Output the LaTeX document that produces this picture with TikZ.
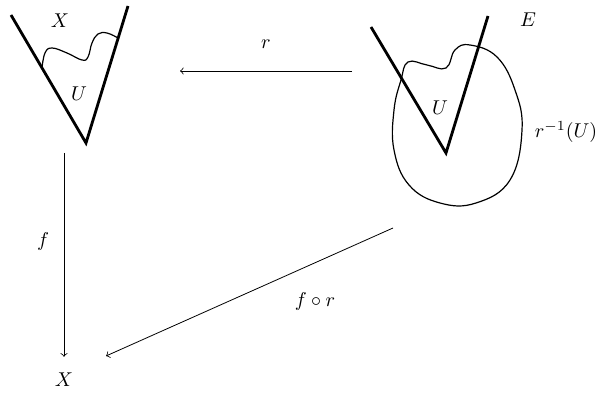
\documentclass[tikz,border=0pt]{standalone}
\usepackage{amsmath,amssymb}
\usepackage{tikz}
\begin{document}
\begin{tikzpicture}[x=0.5pt,y=-0.5pt]
  \tikzset{vee/.style={line width=1.4pt},blob/.style={line width=0.6pt},
    map/.style={->,thin},lbl/.style={inner sep=0pt}}
  \useasboundingbox (0,0) rectangle (604,394);
  \draw[vee] (11,15)--(86,143)--(128,6);
  \draw[blob] plot[smooth,tension=0.7] coordinates
    {(42,68) (45,53) (52,48) (67,53) (82,60) (88,57) (92,43) (98,34) (107,33) (118,38)};
  \node[lbl] (Xtop) at (60,21) {$X$};
  \node[lbl] (Uleft) at (79,94) {$U$};
  \draw[vee] (371,27)--(446,153)--(488,16);
  \draw[blob] plot[smooth cycle,tension=0.7] coordinates
    {(401,80) (408,62) (427,65) (446,68) (455,50) (470,45) (497,57) (515,90)
     (522,130) (510,180) (476,203) (440,203) (409,185) (394,150) (394,110)};
  \node[lbl] (Uright) at (440,108) {$U$};
  \node[lbl] (E) at (528,20) {$E$};
  \node[lbl] (preimg) at (566,132) {$r^{-1}(U)$};
  \node[lbl] (Xbot) at (64,380) {$X$};
  \coordinate (rS) at (352,71);
  \coordinate (rE) at (180,71);
  \coordinate (fS) at (64,153);
  \coordinate (dS) at (393,228);
  \coordinate (dE) at (106,356);
  \draw[map] (rS)--(rE) node[midway,above=11pt,lbl] (rlbl) {$r$};
  \draw[map,shorten >=8pt] (fS)--(Xbot.north);
  \node[lbl] (flbl) at (43,242) {$f$};
  \draw[map] (dS)--(dE);
  \node[lbl] (frlbl) at (315,302) {$f\circ r$};
\end{tikzpicture}
\end{document}
